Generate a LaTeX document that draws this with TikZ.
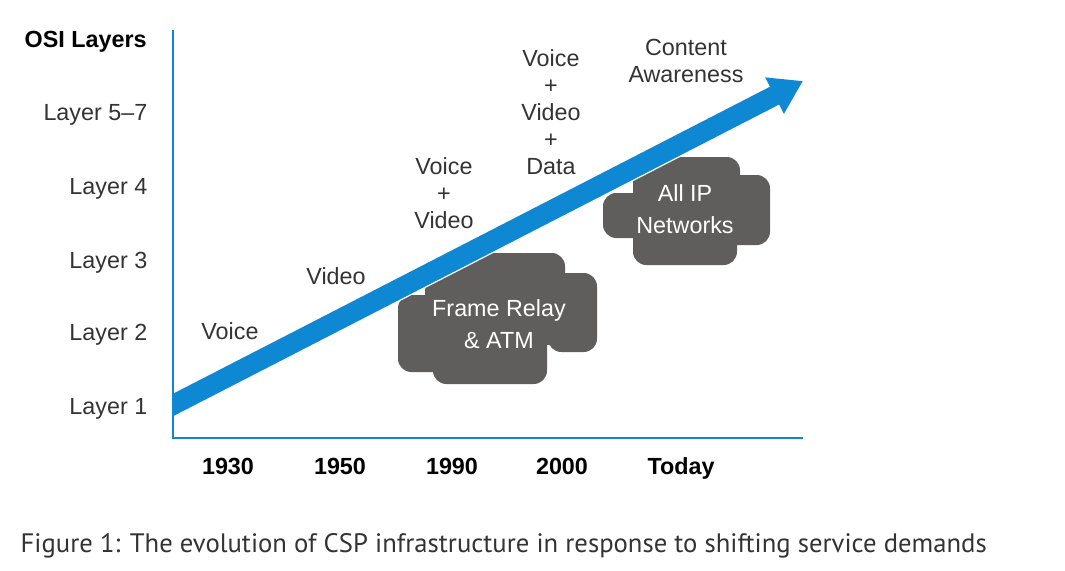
\documentclass[tikz,border=0pt]{standalone}
\usepackage{fontspec}
\setmainfont{Liberation Sans}
\newfontfamily\captionfont{PT Sans}
\usetikzlibrary{arrows.meta,calc}
\definecolor{trendblue}{HTML}{0E88D3}
\definecolor{cloudgray}{HTML}{5F5E5C}
\definecolor{textgray}{HTML}{333333}

\begin{document}
\begin{tikzpicture}[
				x=0.75pt,y=-0.75pt,
				layer/.style={
					anchor=east,
					text=textgray,
					font=\fontsize{17.5}{20}\selectfont
				},
				year/.style={
					anchor=base,
					font=\fontsize{17.5}{20}\selectfont\bfseries
				},
				service/.style={
					align=center,
					text=textgray,
					font=\fontsize{17.5}{20.3}\selectfont
				},
				cloudpart/.style={fill=cloudgray,rounded corners=10pt},
				cloudtext/.style={
					align=center,
					text=white,
					font=\fontsize{17.5}{23.5}\selectfont
				},
				axis/.style={trendblue,line width=1.8pt},
				trend/.style={trendblue,line width=15pt,
					-{Triangle[length=24pt,width=29pt]}}
				]
				\useasboundingbox (0,0) rectangle (1065,571);

				% clouds
				\fill[cloudpart] (440,253) rectangle (565,345);
				\fill[cloudpart] (548,273) rectangle (597,352);
				\fill[cloudpart] (425,278) rectangle (480,360);
				\fill[cloudpart] (398,295) rectangle (470,372);
				\fill[cloudpart] (433,320) rectangle (547,384);
				\fill[cloudpart] (633,157) rectangle (740,225);
				\fill[cloudpart] (715,175) rectangle (770,245);
				\fill[cloudpart] (603,193) rectangle (660,238);
				\fill[cloudpart] (633,210) rectangle (737,265);

				% trend arrow
				\coordinate (start) at (150,416.8);
				\coordinate (tip) at (803,81);
				\begin{scope}
					\clip (173,0) rectangle (1065,571);
					\draw[white,line width=17pt] (start) -- ($(start)!0.93!(tip)$);
					\draw[trend] (start) -- (tip);
				\end{scope}

				% axes
				\coordinate (top) at (173,30);
				\coordinate (origin) at (173,438);
				\coordinate (right) at (803,438);
				\draw[axis] (top) -- (origin) -- (right);

				\node[anchor=west,font=\fontsize{17.5}{20}\selectfont\bfseries] (osi) at (20,42) {OSI Layers};
				\node[layer] (l57) at (152,115) {Layer 5--7};
				\node[layer] (l4) at (152,189) {Layer 4};
				\node[layer] (l3) at (152,263) {Layer 3};
				\node[layer] (l2) at (152,335) {Layer 2};
				\node[layer] (l1) at (152,409) {Layer 1};

				\node[year] (y1930) at (228,474) {1930};
				\node[year] (y1950) at (340,474) {1950};
				\node[year] (y1990) at (452,474) {1990};
				\node[year] (y2000) at (562,474) {2000};
				\node[year] (today) at (681,474) {Today};

				\node[service] (voice) at (230,331) {Voice};
				\node[service] (video) at (336,276) {Video};
				\node[service] (vv) at (444,193) {Voice\\+\\Video};
				\node[service] (vvd) at (551,112) {Voice\\+\\Video\\+\\Data};
				\node[service] (content) at (686,61) {Content\\Awareness};

				\node[cloudtext] (frame) at (499,324) {Frame Relay\\\& ATM};
				\node[cloudtext] (allip) at (685,209) {All IP\\Networks};

				\node[anchor=west,text=textgray,font=\captionfont\fontsize{20}{22}\selectfont] (caption) at (16,546)
				{Figure 1: The evolution of CSP infrastructure in response to shifting service demands};
			\end{tikzpicture}
\end{document}
